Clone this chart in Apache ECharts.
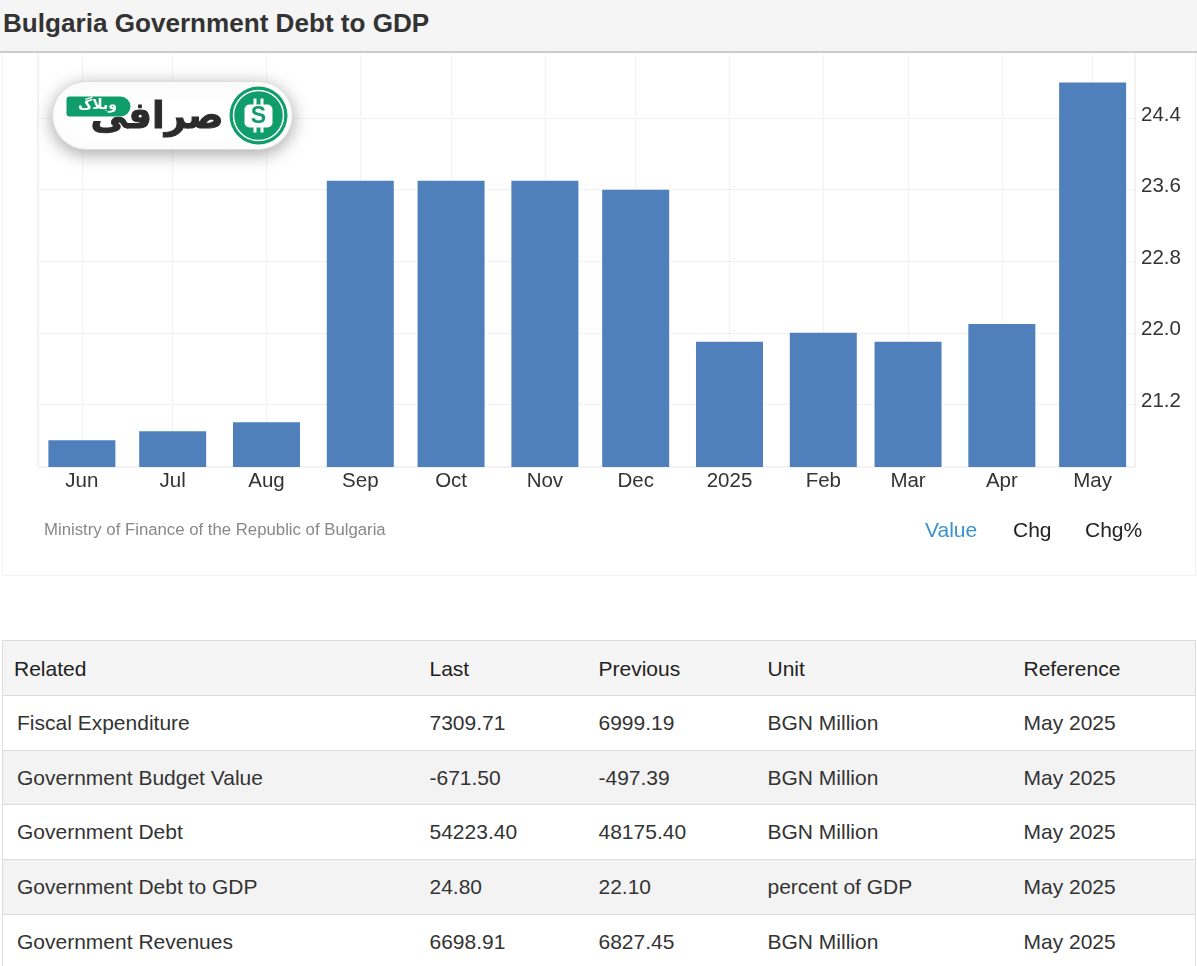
<!DOCTYPE html>
<html>
<head>
<meta charset="utf-8">
<title>Bulgaria Government Debt to GDP</title>
<script src="https://cdn.jsdelivr.net/npm/echarts@6/dist/echarts.min.js"></script>
<style>
  html, body { margin: 0; padding: 0; width: 1197px; height: 966px; overflow: hidden; background: #fff;
    font-family: "Liberation Sans", Arial, sans-serif; color: #333; }
  #head { position: absolute; left: 0; top: 0; width: 1197px; height: 51px; background: #f5f5f5; border-bottom: 2px solid #ccc;
    font-size: 26.1px; font-weight: bold; line-height: 47px; text-indent: 3px; z-index: 2; }
  #main { position: absolute; left: 0; top: 52px; width: 1197px; height: 525px; }
  #box { position: absolute; left: 2px; top: 52px; width: 1194px; height: 524px; border: 1px solid #f2f2f2; border-top: 0; box-sizing: border-box; }
  table { position: absolute; left: 2px; top: 640px; width: 1193px; border-collapse: collapse; table-layout: fixed; font-size: 21px; }
  th, td { border: 1px solid #ddd; border-left: 0; border-right: 0; padding: 0; height: 53.7px; text-align: left; font-weight: normal; white-space: nowrap; }
  tr:nth-child(odd) td { background: #f3f3f3; }
  th { background: #f5f5f5; color: #222; height: 52px; padding-top: 2px; }
  table { border-left: 1px solid #ddd; border-right: 1px solid #ddd; }
  th:first-child { padding-left: 11px; }
  td:first-child { padding-left: 14px; }
</style>
</head>
<body>
<div id="head">Bulgaria Government Debt to GDP</div>
<div id="box"></div>
<div id="main"></div>
<table id="related"></table>
<script type="text/javascript">

var dates = ['2024-06-01', '2024-07-01', '2024-08-01', '2024-09-01', '2024-10-01', '2024-11-01',
  '2024-12-01', '2025-01-01', '2025-02-01', '2025-03-01', '2025-04-01', '2025-05-01'];
var debt = [20.8, 20.9, 21.0, 23.7, 23.7, 23.7, 23.6, 21.9, 22.0, 21.9, 22.1, 24.8];
var monthNames = ['2025', 'Feb', 'Mar', 'Apr', 'May', 'Jun', 'Jul', 'Aug', 'Sep', 'Oct', 'Nov', 'Dec'];
var yTicks = [21.2, 22.0, 22.8, 23.6, 24.4];

var tableHead = ['Related', 'Last', 'Previous', 'Unit', 'Reference'];
var related = ['Fiscal Expenditure', 'Government Budget Value', 'Government Debt', 'Government Debt to GDP', 'Government Revenues'];
var last = ['7309.71', '-671.50', '54223.40', '24.80', '6698.91'];
var previous = ['6999.19', '-497.39', '48175.40', '22.10', '6827.45'];
var units = ['BGN Million', 'BGN Million', 'BGN Million', 'percent of GDP', 'BGN Million'];
var reference = ['May 2025', 'May 2025', 'May 2025', 'May 2025', 'May 2025'];

var widths = [427, 169, 169, 256, 172];
var html = '<colgroup>' + widths.map(function (w) { return '<col style="width:' + w + 'px">'; }).join('') + '</colgroup>';
html += '<tr>' + tableHead.map(function (h) { return '<th>' + h + '</th>'; }).join('') + '</tr>';
related.forEach(function (name, i) {
  html += '<tr><td>' + name + '</td><td>' + last[i] + '</td><td>' + previous[i] + '</td><td>' + units[i] + '</td><td>' + reference[i] + '</td></tr>';
});
document.getElementById('related').innerHTML = html;

var chartDom = document.getElementById('main');
var myChart = echarts.init(chartDom);
var green = '#0f9d6b';
var font = '"Liberation Sans", Arial, sans-serif';

// months are not equally wide in the original, so x is a numeric time scale
var stamps = dates.map(function (d) { return Date.parse(d); });

var option = {
  animation: false,
  grid: { left: 38, right: 62, top: 0, height: 415, show: true, borderColor: '#e6e6e6', borderWidth: 1 },
  xAxis: {
    type: 'value',
    min: Date.parse('2024-05-17T12:00:00Z'),
    max: Date.parse('2025-05-15T00:00:00Z'),
    axisLine: { show: false },
    axisTick: { show: false, customValues: stamps },
    splitLine: { show: true, lineStyle: { color: '#e6e6e6', type: 'dotted' } },
    axisLabel: {
      customValues: stamps,
      margin: 4,
      fontFamily: font,
      fontSize: 20.5,
      color: '#333',
      formatter: function (v) { return monthNames[new Date(v).getUTCMonth()]; }
    }
  },
  yAxis: {
    type: 'value',
    position: 'right',
    min: 20.5,
    max: 25.14,
    axisLine: { show: false },
    axisTick: { show: false, customValues: yTicks },
    splitLine: { show: true, lineStyle: { color: '#e6e6e6', type: 'dotted' } },
    axisLabel: {
      customValues: yTicks,
      margin: 6,
      fontFamily: font,
      fontSize: 20.5,
      color: '#333',
      verticalAlign: 'bottom',
      lineHeight: 6,
      formatter: function (v) { return v.toFixed(1); }
    }
  },
  series: [{
    name: 'Government Debt to GDP',
    type: 'bar',
    barWidth: 67,
    itemStyle: { color: '#4f80bc' },
    data: stamps.map(function (t, i) { return [t, debt[i]]; })
  }],
  graphic: [
    { type: 'text', left: 44, top: 470, style: { text: 'Ministry of Finance of the Republic of Bulgaria', font: '16.75px ' + font, fill: '#888' } },
    { type: 'text', left: 925, top: 469, style: { text: 'Value', font: '21px ' + font, fill: '#3b93c9' } },
    { type: 'text', left: 1013, top: 469, style: { text: 'Chg', font: '21px ' + font, fill: '#222' } },
    { type: 'text', left: 1085, top: 469, style: { text: 'Chg%', font: '21px ' + font, fill: '#222' } },
    // logo badge
    {
      type: 'group', left: 52, top: 29, z: 100,
      children: [
        { type: 'rect', z: 100, shape: { x: 0, y: 0, width: 240, height: 68, r: 34 },
          style: { fill: '#fff', stroke: '#ddd', lineWidth: 1, shadowBlur: 18, shadowColor: 'rgba(0,0,0,0.35)', shadowOffsetY: 4 } },
        { type: 'circle', z: 101, shape: { cx: 206, cy: 34, r: 29 }, style: { fill: green } },
        { type: 'circle', z: 102, shape: { cx: 206, cy: 34, r: 25 }, style: { fill: 'none', stroke: '#fff', lineWidth: 1.5 } },
        { type: 'rect', z: 102, shape: { x: 201, y: 17, width: 3, height: 34 }, style: { fill: '#fff' } },
        { type: 'rect', z: 102, shape: { x: 208, y: 17, width: 3, height: 34 }, style: { fill: '#fff' } },
        { type: 'rect', z: 103, shape: { x: 192, y: 23, width: 28, height: 23, r: 5 }, style: { fill: '#fff' } },
        { type: 'text', z: 104, style: { x: 206, y: 35, text: 'S', align: 'center', verticalAlign: 'middle', font: 'bold 23px ' + font, fill: green } },
        { type: 'text', z: 101, style: { x: 171, y: 37, text: 'صرافی', align: 'right', verticalAlign: 'middle', font: 'bold 37px "DejaVu Sans"', fill: '#2b2b2b', stroke: '#2b2b2b', lineWidth: 1 } },
        { type: 'rect', z: 102, shape: { x: 14, y: 15, width: 64, height: 20, r: [3, 10, 10, 3] }, style: { fill: green } },
        { type: 'text', z: 103, style: { x: 45, y: 24, text: 'وبلاگ', align: 'center', verticalAlign: 'middle', font: 'bold 14px "DejaVu Sans"', fill: '#fff' } }
      ]
    }
  ]
};

option && myChart.setOption(option);
</script>
</body>
</html>
